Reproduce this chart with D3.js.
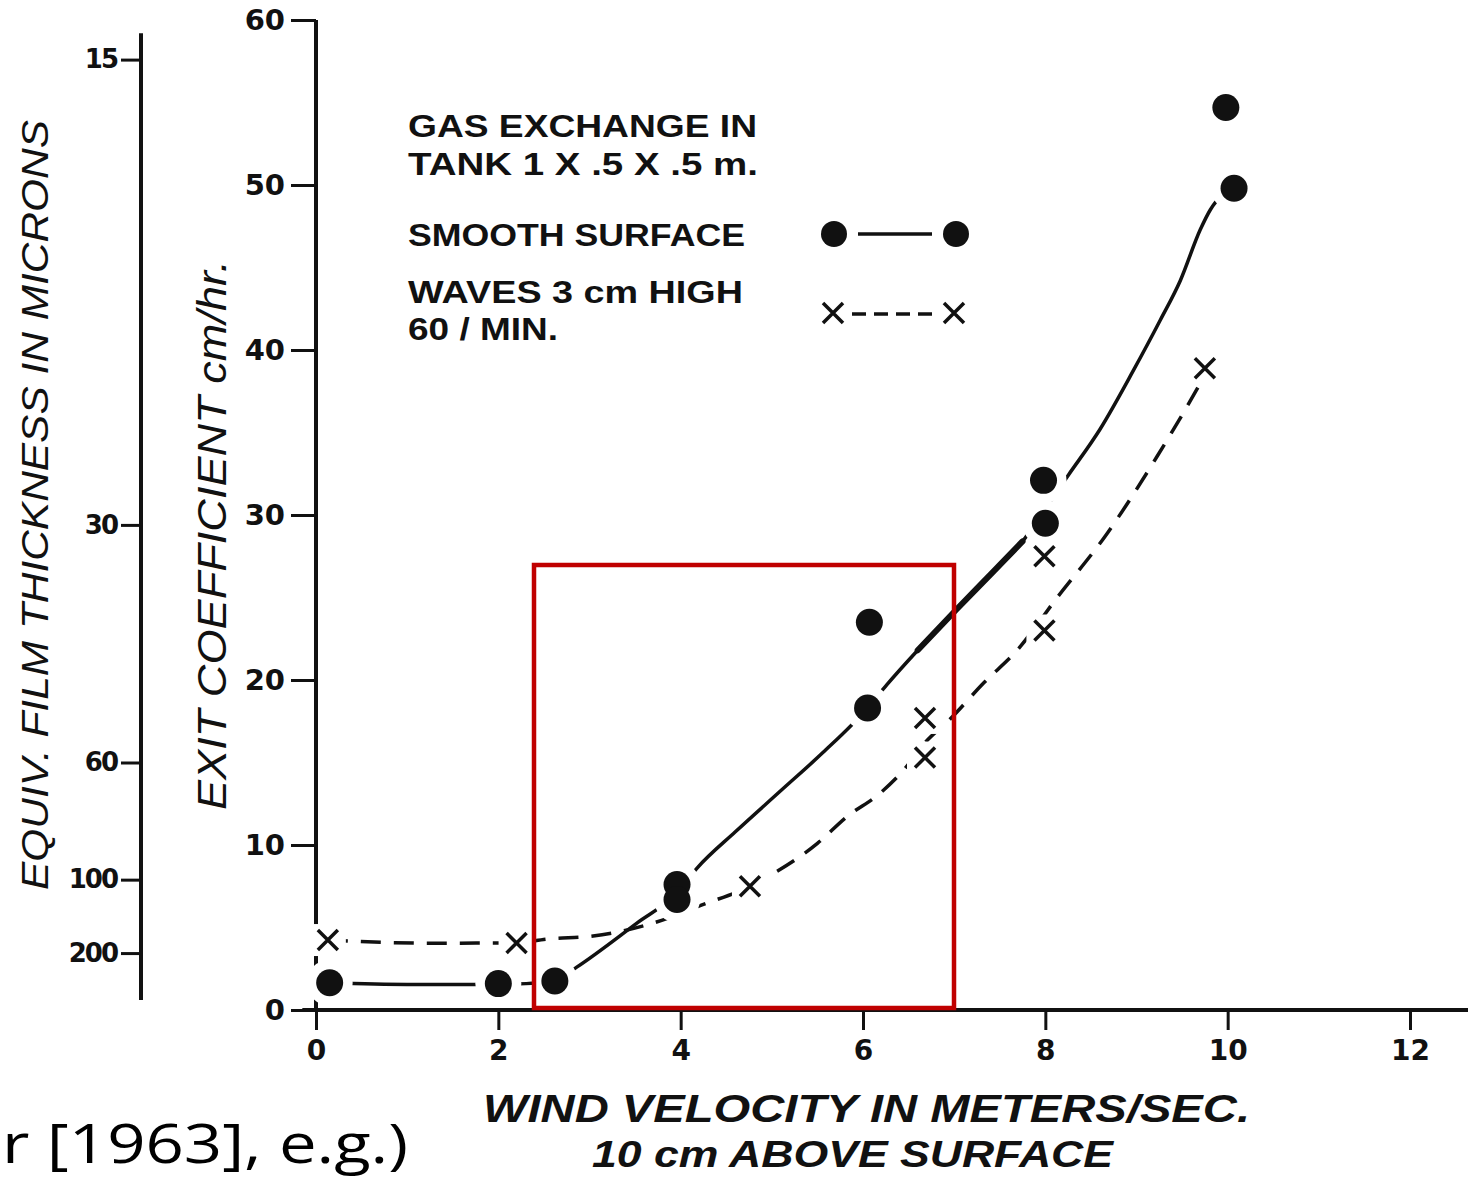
<!DOCTYPE html>
<html>
<head>
<meta charset="utf-8">
<script src="https://cdn.jsdelivr.net/npm/d3@7"></script>
<style>
  body { margin: 0; background: #fff; }
  svg { display: block; }
  .tick text { font-family: 'DejaVu Sans', sans-serif; font-weight: bold; fill: #111; }
</style>
</head>
<body>
<div id="app"></div>
<script>
/* global d3 */

// Data
const windTicks = [0, 2, 4, 6, 8, 10, 12];
const exitTicks = [0, 10, 20, 30, 40, 50, 60];
const filmTicks = [15, 30, 60, 100, 200];
// exit coefficient level where each film thickness tick sits
const filmAt = [57.6, 29.4, 15.0, 7.9, 3.45];

// smooth surface (filled dots)
const smoothX = [0.15, 2.0, 2.62, 3.96, 3.96, 6.07, 6.05, 7.98, 8.0, 9.98, 10.07];
const smoothY = [1.65, 1.6, 1.76, 7.6, 6.7, 23.5, 18.3, 32.1, 29.5, 54.7, 49.8];
// waves 3 cm high (crosses)
const wavesX = [0.13, 2.2, 4.76, 6.68, 6.68, 7.99, 7.99, 9.75];
const wavesY = [4.24, 4.06, 7.5, 17.7, 15.3, 27.5, 23.0, 38.9];

// hand-drawn fitted curves
const smoothCurveX = [0.15, 1.0, 2.0, 2.62, 2.86, 3.52, 3.96, 4.18, 4.6, 5.1, 5.56, 6.05, 6.26, 6.6, 7.03, 7.4, 7.75, 8.0, 8.25, 8.6, 8.96, 9.26, 9.48, 9.7, 9.81, 10.07];
const smoothCurveY = [1.65, 1.55, 1.55, 1.76, 2.6, 5.27, 7.1, 8.6, 10.8, 13.3, 15.6, 18.3, 19.7, 21.8, 24.3, 26.4, 28.4, 30.4, 32.4, 35.2, 38.7, 41.8, 44.2, 47.3, 48.5, 49.8];
const wavesCurveX = [0.13, 1.2, 2.2, 2.53, 3.04, 3.8, 4.2, 4.76, 4.95, 5.5, 5.82, 6.19, 6.44, 6.68, 6.95, 7.32, 7.69, 8.13, 8.68, 9.22, 9.66, 9.75];
const wavesCurveY = [4.24, 4.05, 4.06, 4.3, 4.48, 5.45, 6.3, 7.5, 8.06, 10.1, 11.7, 13.15, 14.5, 16.2, 17.6, 19.8, 21.8, 25.0, 28.9, 33.5, 37.6, 38.5];

const legendLines = ['GAS  EXCHANGE  IN', 'TANK  1 X .5 X .5  m.', 'SMOOTH  SURFACE', 'WAVES  3 cm  HIGH', '60 / MIN.'];

const width = 1468;
const height = 1178;
const ink = '#111';
const figFont = "'Liberation Sans', 'DejaVu Sans', sans-serif";

const svg = d3.select('#app')
  .append('svg')
  .attr('width', width)
  .attr('height', height);

// Scales
const xScale = d3.scaleLinear().domain([0, 12]).range([316, 1410]);
const yScale = d3.scaleLinear().domain([0, 60]).range([1010, 20]);
const filmScale = d3.scaleLinear().domain(filmTicks).range(filmAt.map((d) => yScale(d)));

// X axis
const xAxis = svg.append('g')
  .attr('transform', `translate(0, ${yScale(0)})`)
  .call(d3.axisBottom(xScale).tickValues(windTicks).tickSize(20).tickPadding(10));
xAxis.select('.domain').remove();
xAxis.selectAll('line').attr('stroke', ink).attr('stroke-width', 3);
xAxis.selectAll('text').attr('font-size', 28);
svg.append('line')
  .attr('x1', xScale(-0.15)).attr('x2', width)
  .attr('y1', yScale(0)).attr('y2', yScale(0))
  .attr('stroke', ink).attr('stroke-width', 4);

// Y axis (exit coefficient)
const yAxis = svg.append('g')
  .attr('transform', `translate(${xScale(0)}, 0)`)
  .call(d3.axisLeft(yScale).tickValues(exitTicks).tickSize(25).tickPadding(6));
yAxis.select('.domain').remove();
yAxis.selectAll('line').attr('stroke', ink).attr('stroke-width', 3);
yAxis.selectAll('text').attr('font-size', 29);
svg.append('line')
  .attr('x1', xScale(0)).attr('x2', xScale(0))
  .attr('y1', yScale(60)).attr('y2', yScale(0))
  .attr('stroke', ink).attr('stroke-width', 4);

// Film thickness axis
const filmX = 141;
const fAxis = svg.append('g')
  .attr('transform', `translate(${filmX}, 0)`)
  .call(d3.axisLeft(filmScale).tickValues(filmTicks).tickFormat(d3.format('d')).tickSize(20).tickPadding(4));
fAxis.select('.domain').remove();
fAxis.selectAll('line').attr('stroke', ink).attr('stroke-width', 3);
fAxis.selectAll('text').attr('font-size', 26).attr('letter-spacing', -2);
svg.append('line')
  .attr('x1', filmX).attr('x2', filmX)
  .attr('y1', yScale(59.2)).attr('y2', yScale(0.6))
  .attr('stroke', ink).attr('stroke-width', 4);

// Curves
const line = d3.line()
  .x((d) => xScale(d[0]))
  .y((d) => yScale(d[1]))
  .curve(d3.curveMonotoneX);

const smoothCurve = smoothCurveX.map((x, i) => [x, smoothCurveY[i]]);
svg.append('path')
  .datum(smoothCurve)
  .attr('d', line)
  .attr('fill', 'none')
  .attr('stroke', ink)
  .attr('stroke-width', 3.5);

// heavier pen stroke on the middle stretch
svg.append('path')
  .datum(smoothCurve.filter((d) => d[0] >= 6.4 && d[0] <= 7.8))
  .attr('d', line)
  .attr('fill', 'none')
  .attr('stroke', ink)
  .attr('stroke-width', 6)
  .attr('stroke-linecap', 'round');

svg.append('path')
  .datum(wavesCurveX.map((x, i) => [x, wavesCurveY[i]]))
  .attr('d', line)
  .attr('fill', 'none')
  .attr('stroke', ink)
  .attr('stroke-width', 3.5)
  .attr('stroke-dasharray', '20 13');

// Marker halos (open gaps in curves)
const halo = svg.append('g');
halo.selectAll('circle')
  .data(smoothX)
  .join('circle')
  .attr('cx', (d) => xScale(d))
  .attr('cy', (d, i) => yScale(smoothY[i]))
  .attr('r', 23)
  .attr('fill', '#fff');
halo.selectAll('rect')
  .data(wavesX)
  .join('rect')
  .attr('x', (d) => xScale(d) - 18)
  .attr('y', (d, i) => yScale(wavesY[i]) - 16)
  .attr('width', 36)
  .attr('height', 32)
  .attr('fill', '#fff');

// Smooth surface dots
svg.append('g').selectAll('circle')
  .data(smoothX)
  .join('circle')
  .attr('cx', (d) => xScale(d))
  .attr('cy', (d, i) => yScale(smoothY[i]))
  .attr('r', 13.5)
  .attr('fill', ink);

// Wave crosses
const cross = (g, cx, cy, s) => {
  g.append('path')
    .attr('d', `M${cx - s},${cy - s}L${cx + s},${cy + s}M${cx + s},${cy - s}L${cx - s},${cy + s}`)
    .attr('stroke', ink)
    .attr('stroke-width', 3.5)
    .attr('fill', 'none');
};
const crossG = svg.append('g');
wavesX.forEach((x, i) => cross(crossG, xScale(x), yScale(wavesY[i]), 10));

// Legend
const legend = svg.append('g')
  .attr('font-family', figFont)
  .attr('font-weight', 'bold')
  .attr('font-size', 31)
  .attr('fill', ink);
const legendY = [137, 175, 246, 303, 340];
const legendW = [349, 350, 337, 335, 150];
legend.selectAll('text')
  .data(legendLines)
  .join('text')
  .attr('x', 408)
  .attr('y', (d, i) => legendY[i])
  .attr('textLength', (d, i) => legendW[i])
  .attr('lengthAdjust', 'spacingAndGlyphs')
  .text((d) => d);

// Legend symbols
svg.append('line')
  .attr('x1', 858).attr('x2', 932).attr('y1', 234).attr('y2', 234)
  .attr('stroke', ink).attr('stroke-width', 3.5);
svg.append('circle').attr('cx', 834).attr('cy', 234).attr('r', 13).attr('fill', ink);
svg.append('circle').attr('cx', 956).attr('cy', 234).attr('r', 13).attr('fill', ink);
svg.append('line')
  .attr('x1', 852).attr('x2', 936).attr('y1', 314).attr('y2', 314)
  .attr('stroke', ink).attr('stroke-width', 3.5)
  .attr('stroke-dasharray', '14 8');
cross(svg, 833, 313, 10);
cross(svg, 954, 313, 10);

// Axis titles
svg.append('text')
  .attr('transform', 'translate(226, 535) rotate(-90)')
  .attr('text-anchor', 'middle')
  .attr('font-family', figFont)
  .attr('font-style', 'italic')
  .attr('font-size', 40)
  .attr('textLength', 550)
  .attr('lengthAdjust', 'spacingAndGlyphs')
  .attr('fill', ink)
  .text('EXIT  COEFFICIENT  cm/hr.');

svg.append('text')
  .attr('transform', 'translate(48, 505) rotate(-90)')
  .attr('text-anchor', 'middle')
  .attr('font-family', figFont)
  .attr('font-style', 'italic')
  .attr('font-size', 36)
  .attr('textLength', 770)
  .attr('lengthAdjust', 'spacingAndGlyphs')
  .attr('fill', ink)
  .text('EQUIV.  FILM  THICKNESS  IN  MICRONS');

svg.append('text')
  .attr('x', 483).attr('y', 1122)
  .attr('font-family', figFont)
  .attr('font-style', 'italic')
  .attr('font-weight', 'bold')
  .attr('font-size', 38)
  .attr('textLength', 767)
  .attr('lengthAdjust', 'spacingAndGlyphs')
  .attr('fill', ink)
  .text('WIND  VELOCITY  IN  METERS/SEC.');

svg.append('text')
  .attr('x', 592).attr('y', 1167)
  .attr('font-family', figFont)
  .attr('font-style', 'italic')
  .attr('font-weight', 'bold')
  .attr('font-size', 37)
  .attr('textLength', 521)
  .attr('lengthAdjust', 'spacingAndGlyphs')
  .attr('fill', ink)
  .text('10 cm  ABOVE  SURFACE');

// Highlight box
svg.append('rect')
  .attr('x', 534).attr('y', 565)
  .attr('width', 420).attr('height', 443)
  .attr('fill', 'none')
  .attr('stroke', '#c00000')
  .attr('stroke-width', 4.5);

// Citation fragment
svg.append('text')
  .attr('x', 2).attr('y', 1163)
  .attr('font-family', "'Open Sans', sans-serif")
  .attr('font-size', 54)
  .attr('textLength', 406)
  .attr('lengthAdjust', 'spacingAndGlyphs')
  .attr('fill', '#000')
  .text('r [1963], e.g.)');
</script>
</body>
</html>
